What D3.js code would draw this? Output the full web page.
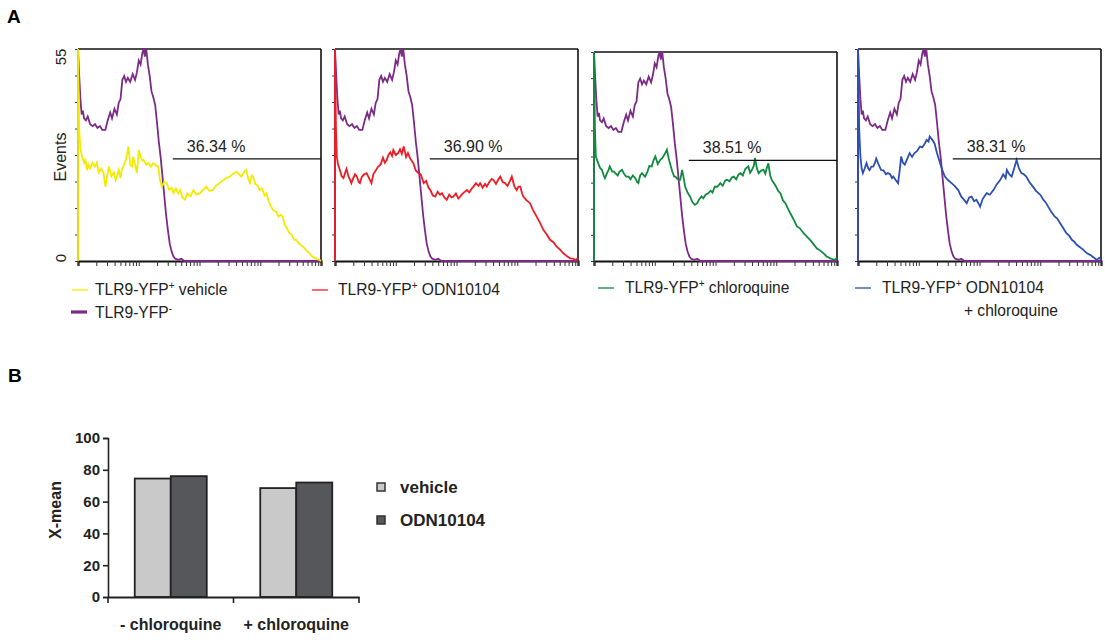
<!DOCTYPE html>
<html><head><meta charset="utf-8">
<script src="https://cdn.jsdelivr.net/npm/d3@7"></script>
<style>body{margin:0;background:#fff}svg{display:block;font-family:Arial,"Liberation Sans",sans-serif}</style>
</head><body><svg id="c" width="1105" height="640"></svg>
<script>
// ---------- DATA (panel A: x = log10 fluorescence decade, y = events) ----------
const negative = [[0,0],[0,55],[0.02,48],[0.04,42],[0.06,38],[0.08,39],[0.1,37],[0.13,36.5],[0.16,37.5],[0.2,35.5],[0.24,35],[0.28,35.5],[0.32,34.5],[0.36,35],[0.4,34],[0.45,34],[0.49,36.5],[0.53,38.5],[0.56,37],[0.6,39.5],[0.64,38],[0.67,41],[0.7,42],[0.73,47],[0.76,48],[0.79,46.5],[0.82,47.5],[0.86,46.5],[0.9,48.5],[0.94,47],[0.97,49],[1.0,52],[1.03,51],[1.06,54],[1.08,55],[1.1,53],[1.12,55.5],[1.15,51],[1.18,48],[1.21,44],[1.24,42.5],[1.27,40.5],[1.3,36],[1.33,31],[1.36,27],[1.39,22],[1.42,17],[1.45,12],[1.48,8],[1.51,4.5],[1.54,2.5],[1.57,1.2],[1.6,0.6],[1.65,0.3],[1.7,0.6],[1.75,0],[4,0]];
const vehicle = [[0,0],[0,55],[0.02,34],[0.04,29],[0.07,27],[0.1,25.5],[0.12,26.5],[0.15,23.5],[0.17,25],[0.2,24],[0.24,25.5],[0.28,24.5],[0.31,25.5],[0.34,23],[0.38,24],[0.42,22.8],[0.45,19.3],[0.48,22],[0.51,24.5],[0.55,22],[0.59,23],[0.62,21],[0.64,22],[0.67,23.6],[0.7,21.5],[0.72,23.6],[0.76,25],[0.8,27],[0.83,29.7],[0.86,25],[0.89,24.5],[0.91,27],[0.94,25],[0.97,22.8],[1.0,28.8],[1.03,27],[1.06,26],[1.08,26.2],[1.12,25],[1.16,25.5],[1.2,24.5],[1.24,25.4],[1.28,24.8],[1.32,24.5],[1.35,21],[1.38,19.3],[1.42,20.5],[1.46,20.2],[1.5,18.5],[1.54,19],[1.57,17.6],[1.61,18.8],[1.65,17.5],[1.68,18.4],[1.72,16.5],[1.76,15.9],[1.8,17.5],[1.85,16.8],[1.9,18.4],[1.95,17.2],[2.01,17.6],[2.06,18.5],[2.11,19.3],[2.16,18.2],[2.22,18.4],[2.27,19.5],[2.33,20.2],[2.38,20.8],[2.44,21.5],[2.5,21.9],[2.55,22.6],[2.61,23.2],[2.65,22.5],[2.69,21.9],[2.73,23],[2.77,23.6],[2.8,21.5],[2.83,20.2],[2.86,22.2],[2.88,21.9],[2.92,20],[2.96,19.5],[2.99,18.4],[3.03,18.8],[3.07,17],[3.1,17.6],[3.15,15],[3.21,13.2],[3.26,12.8],[3.3,11.5],[3.34,12],[3.37,11.5],[3.4,9.5],[3.44,8.5],[3.48,7.2],[3.52,6.8],[3.56,5.5],[3.59,5.5],[3.64,4.5],[3.7,3.8],[3.75,2.9],[3.8,2.2],[3.86,1.1],[3.9,0.8],[3.94,0.5],[3.97,0.3],[4,0]];
const odn = [[0,0],[0,55],[0.015,35],[0.03,27.1],[0.05,25],[0.08,23.6],[0.11,22],[0.14,21.5],[0.17,23],[0.19,23.9],[0.22,22],[0.25,21],[0.27,20.2],[0.3,21.5],[0.33,22.5],[0.36,21.9],[0.39,20.5],[0.41,20.2],[0.44,21.8],[0.48,22.5],[0.52,22.8],[0.56,21.5],[0.6,20.2],[0.63,22.5],[0.67,23.5],[0.71,24.5],[0.75,25],[0.79,26.8],[0.82,25.5],[0.85,26.2],[0.88,27.5],[0.91,28.2],[0.94,27.3],[0.96,28.8],[1.0,27.5],[1.04,28],[1.07,29],[1.1,27.8],[1.13,29.7],[1.17,27],[1.2,28],[1.24,26.5],[1.27,25.8],[1.29,25.4],[1.33,23.5],[1.37,22.8],[1.41,22.5],[1.46,20.2],[1.5,20.8],[1.54,19],[1.57,18.4],[1.61,17],[1.65,16.7],[1.69,18],[1.73,17.2],[1.76,17.6],[1.8,16.5],[1.84,15.9],[1.88,17.2],[1.92,16.5],[1.95,16.7],[1.99,17.5],[2.03,16.2],[2.06,16.7],[2.1,17.5],[2.14,18],[2.17,18.4],[2.21,17.8],[2.25,18.8],[2.28,19.3],[2.32,20.2],[2.36,19.5],[2.39,20.2],[2.43,19],[2.47,20],[2.5,19.3],[2.54,20.5],[2.58,21.3],[2.61,21],[2.65,20],[2.69,21.2],[2.72,21.9],[2.76,20.5],[2.8,20.2],[2.84,19.5],[2.88,20.8],[2.91,21.9],[2.95,19.5],[2.99,18.4],[3.02,19.3],[3.05,19.3],[3.08,17.5],[3.1,16.7],[3.15,15.8],[3.21,15],[3.26,13.2],[3.32,11.5],[3.37,10],[3.43,8.1],[3.48,7],[3.54,5.5],[3.6,4.8],[3.65,3.7],[3.7,3],[3.76,2],[3.82,1.2],[3.87,0.7],[3.92,0.6],[3.96,0.2],[4,0.8]];
const chloroquine = [[0,0],[0,55],[0.015,35],[0.03,27.5],[0.07,25.7],[0.1,24.5],[0.13,24],[0.16,22.5],[0.18,21.8],[0.21,23],[0.24,24],[0.26,24.9],[0.3,23.5],[0.33,23.5],[0.35,23.1],[0.39,22.5],[0.42,23.5],[0.46,24],[0.5,22.8],[0.53,22.2],[0.57,22.2],[0.6,21.5],[0.64,22.5],[0.68,21.8],[0.71,20.8],[0.73,20.5],[0.76,22.5],[0.79,23.1],[0.82,22.5],[0.84,22.2],[0.88,23.5],[0.91,25],[0.95,24.9],[0.98,26.5],[1.01,27.5],[1.05,25.5],[1.09,26.6],[1.12,27],[1.16,28],[1.2,29.3],[1.23,27],[1.25,25.7],[1.29,23.5],[1.32,22.2],[1.34,22.2],[1.38,21.5],[1.42,21.4],[1.45,24],[1.48,21.5],[1.5,19.6],[1.54,18],[1.58,17],[1.62,15.5],[1.66,14.8],[1.7,15.2],[1.73,16.2],[1.77,17],[1.8,16.5],[1.84,17.5],[1.88,17.8],[1.92,18.5],[1.95,18],[1.99,19.6],[2.03,19.5],[2.08,20.5],[2.12,19.8],[2.16,21.2],[2.19,21.4],[2.23,21],[2.27,22],[2.3,22.2],[2.34,21.5],[2.38,22.8],[2.41,23.1],[2.45,22.5],[2.49,24.2],[2.54,24.9],[2.57,23.2],[2.6,24],[2.63,25],[2.65,27.1],[2.68,24.5],[2.71,23.1],[2.75,23.8],[2.79,24],[2.82,23],[2.85,24.8],[2.87,25.7],[2.9,22.5],[2.93,21.2],[2.96,20.5],[3.0,19.5],[3.03,18.5],[3.07,17.8],[3.11,16],[3.15,15.2],[3.2,13.5],[3.26,11.7],[3.3,10.5],[3.34,9.1],[3.39,8.6],[3.45,7.3],[3.5,6.5],[3.56,5.5],[3.61,4.5],[3.67,3.3],[3.72,2.8],[3.78,2],[3.83,1.2],[3.89,0.7],[3.94,0.4],[3.97,0.3],[4,0.9]];
const odnChloroquine = [[0,0],[0,55],[0.01,45],[0.02,34],[0.04,27.1],[0.06,24],[0.08,22.8],[0.11,24],[0.14,25.4],[0.17,24],[0.19,23.6],[0.22,24.5],[0.25,24.5],[0.28,25.5],[0.3,26.6],[0.34,25],[0.38,23.6],[0.42,23.5],[0.46,22.5],[0.49,22.8],[0.53,22.5],[0.56,21.5],[0.58,21.9],[0.62,21],[0.66,20.2],[0.69,24],[0.71,27.1],[0.74,25.5],[0.77,25],[0.81,26.5],[0.85,28],[0.89,27],[0.93,28],[0.97,28.5],[1.02,29.7],[1.06,29.5],[1.1,30.5],[1.13,31.4],[1.16,31],[1.18,32.3],[1.22,31.5],[1.26,30.5],[1.3,28],[1.35,25.4],[1.39,23.5],[1.43,21.9],[1.48,21],[1.54,20.2],[1.59,19.5],[1.65,18.4],[1.7,16.7],[1.74,16],[1.79,15],[1.83,16.5],[1.87,16.7],[1.91,15.5],[1.95,15.9],[1.98,15],[2.01,14.1],[2.05,16],[2.09,17],[2.12,17.6],[2.17,17.2],[2.23,18.4],[2.28,19.8],[2.34,21],[2.39,22.5],[2.43,21.5],[2.45,23.6],[2.49,22.5],[2.53,21.9],[2.57,24],[2.61,26.2],[2.65,24],[2.69,22.8],[2.73,22.5],[2.77,21.9],[2.82,20.5],[2.88,19.3],[2.93,18.2],[2.97,17.6],[3.01,17],[3.05,15.9],[3.09,15.2],[3.13,14.1],[3.18,12.8],[3.24,11.5],[3.28,11],[3.32,10],[3.38,8.5],[3.43,7.2],[3.48,6.5],[3.52,5.5],[3.56,5],[3.6,4.2],[3.66,3.5],[3.71,2.9],[3.77,2],[3.82,1.6],[3.88,0.9],[3.93,0.3],[3.97,0.8],[4,0.4]];
const gatePercents = ["36.34 %","36.90 %","38.51 %","38.31 %"];
const gateStartDecade = 1.56;
const gateEvents = 26.5;
const yAxisTickLabels = ["0","55"];
const legendNames = ["vehicle","ODN10104","chloroquine","ODN10104"];

// ---------- DATA (panel B) ----------
const categories = ["- chloroquine","+ chloroquine"];
const seriesNames = ["vehicle","ODN10104"];
const vehicleMeans = [74.5, 68.5];
const odnMeans = [76, 72];
const bTicks = [0,20,40,60,80,100];

// ---------- STYLE / LAYOUT ----------
const svg = d3.select("#c");
const colors = ["#f4ea00","#ee1c25","#108a3e","#2d4eb2"];
const purple = "#7c2a88";
const panelLefts = [78,335,594,858];
const panelTops = [49,49,52,49];
const panelW = 243, panelBottom = 261;

svg.append("text").attr("x",7).attr("y",23).attr("font-size",19).attr("font-weight","bold").text("A");
svg.append("text").attr("x",8).attr("y",382).attr("font-size",19).attr("font-weight","bold").text("B");

const curves = [vehicle, odn, chloroquine, odnChloroquine];

panelLefts.forEach((px,i)=>{
  const top = panelTops[i];
  const x = d3.scaleLog().domain([1,1e4]).range([px, px+panelW]);
  const y = d3.scaleLinear().domain([0,55]).range([panelBottom, top]);
  const g = svg.append("g");
  const cid = "clip"+i;
  svg.append("clipPath").attr("id",cid).append("rect")
     .attr("x",px-1).attr("y",top).attr("width",panelW+2).attr("height",panelBottom-top+1);
  g.append("line").attr("x1",px).attr("x2",px+panelW).attr("y1",top).attr("y2",top).attr("stroke","#111").attr("stroke-width",1.3);
  g.append("line").attr("x1",px+panelW).attr("x2",px+panelW).attr("y1",top).attr("y2",panelBottom).attr("stroke","#111").attr("stroke-width",1.6);
  g.append("line").attr("x1",px).attr("x2",px).attr("y1",top).attr("y2",panelBottom).attr("stroke","#111").attr("stroke-width",1.2);
  const xa = g.append("g").attr("transform",`translate(0,${panelBottom})`)
    .call(d3.axisBottom(x).tickValues(x.ticks()).tickSize(5).tickFormat(""));
  xa.select(".domain").attr("stroke","#111").attr("stroke-width",2.2);
  xa.selectAll(".tick line").attr("stroke","#333").attr("stroke-width",1);
  const ya = g.append("g").attr("transform",`translate(${px},0)`)
    .call(d3.axisLeft(y).tickValues(d3.range(0,55.001,55/8)).tickSize(3).tickFormat(""));
  ya.select(".domain").remove();
  ya.selectAll(".tick line").attr("stroke","#333");
  const line = d3.line().x(d=>x(Math.pow(10,d[0]))).y(d=>y(d[1]));
  g.append("path").datum(negative).attr("d",line).attr("fill","none").attr("stroke",purple).attr("stroke-width",1.8).attr("clip-path",`url(#${cid})`);
  g.append("path").datum(curves[i]).attr("d",line).attr("fill","none").attr("stroke",colors[i]).attr("stroke-width",1.8).attr("clip-path",`url(#${cid})`);
  g.append("line").attr("x1",x(Math.pow(10,gateStartDecade))).attr("x2",px+panelW)
    .attr("y1",y(gateEvents)).attr("y2",y(gateEvents)).attr("stroke","#111").attr("stroke-width",1.3);
  g.append("text").attr("x",x(Math.pow(10,gateStartDecade))+14).attr("y",y(gateEvents)-7)
    .attr("font-size",16).attr("fill","#222").text(gatePercents[i]);
  if(i===0){
    g.append("text").attr("transform",`translate(66,${y(55)+8}) rotate(-90)`).attr("text-anchor","middle").attr("font-size",15).attr("fill","#222").text(yAxisTickLabels[1]);
    g.append("text").attr("transform",`translate(66,${y(0)-3}) rotate(-90)`).attr("text-anchor","middle").attr("font-size",15).attr("fill","#222").text(yAxisTickLabels[0]);
    g.append("text").attr("transform",`translate(66,157) rotate(-90)`).attr("text-anchor","middle").attr("font-size",16).attr("fill","#222").text("Events");
  }
});

// legend A
const legA = [{lx:72,tx:95,y:290},{lx:312,tx:338,y:290},{lx:598,tx:625,y:288},{lx:855,tx:882,y:288}];
function yfpLabel(sel, sign, rest){
  sel.append("tspan").text("TLR9-YFP");
  sel.append("tspan").attr("font-size",10).attr("dy",-6).text(sign);
  if(rest) sel.append("tspan").attr("dy",6).text(rest);
}
legA.forEach((L,i)=>{
  svg.append("line").attr("x1",L.lx).attr("x2",L.lx+16).attr("y1",L.y).attr("y2",L.y).attr("stroke",colors[i]).attr("stroke-width",1.3);
  const t = svg.append("text").attr("x",L.tx).attr("y",L.y+5).attr("font-size",15.6).attr("fill","#222");
  yfpLabel(t,"+"," "+legendNames[i]);
});
svg.append("text").attr("x",1058).attr("y",316).attr("text-anchor","end").attr("font-size",15.6).attr("fill","#222").text("+ chloroquine");
svg.append("line").attr("x1",71).attr("x2",87).attr("y1",312).attr("y2",312).attr("stroke",purple).attr("stroke-width",3.2);
yfpLabel(svg.append("text").attr("x",95).attr("y",318).attr("font-size",15.6).attr("fill","#222"),"-",null);

// ---------- PANEL B ----------
const bx0 = d3.scaleBand().domain(categories).range([108,359]);
const groupW = 72;
const bx1 = d3.scaleBand().domain(seriesNames).range([0,groupW]);
const by = d3.scaleLinear().domain([0,100]).range([597,438]);
const barColors = ["#c9c9c9","#56575a"];
const seriesVals = [vehicleMeans, odnMeans];
const gb = svg.append("g");
seriesNames.forEach((s,si)=>{
  gb.selectAll(null).data(categories).enter().append("rect")
    .attr("x",c=>bx0(c)+bx0.bandwidth()/2-groupW/2+bx1(s))
    .attr("y",(c,ci)=>by(seriesVals[si][ci]))
    .attr("width",bx1.bandwidth())
    .attr("height",(c,ci)=>by(0)-by(seriesVals[si][ci]))
    .attr("fill",barColors[si]).attr("stroke","#222").attr("stroke-width",1.8);
});
const yb = gb.append("g").attr("transform","translate(108,0)")
  .call(d3.axisLeft(by).tickValues(bTicks).tickSize(5).tickPadding(3));
yb.selectAll("text").attr("font-size",15).attr("font-weight","bold").attr("fill","#222").attr("font-family","Arial, Liberation Sans, sans-serif");
yb.select(".domain").attr("stroke","#222").attr("stroke-width",1.6);
yb.selectAll(".tick line").attr("stroke","#222").attr("stroke-width",1.6);
const xb = gb.append("g").attr("transform","translate(0,597)")
  .call(d3.axisBottom(bx0).tickSize(0).tickSizeOuter(0).tickPadding(22));
xb.select(".domain").attr("stroke","#222").attr("stroke-width",1.8);
xb.selectAll("text").attr("font-size",16).attr("font-weight","bold").attr("fill","#222").attr("font-family","Arial, Liberation Sans, sans-serif");
gb.selectAll(null).data(d3.range(categories.length+1)).enter().append("line")
  .attr("x1",i=>i<categories.length?bx0(categories[i]):bx0.range()[1])
  .attr("x2",i=>i<categories.length?bx0(categories[i]):bx0.range()[1])
  .attr("y1",597).attr("y2",603).attr("stroke","#222").attr("stroke-width",1.6);
gb.append("text").attr("transform","translate(61,510) rotate(-90)").attr("text-anchor","middle")
  .attr("font-size",16).attr("font-weight","bold").attr("fill","#222").text("X-mean");
seriesNames.forEach((s,i)=>{
  const yy = 487 + i*33;
  gb.append("rect").attr("x",377).attr("y",yy-4).attr("width",8).attr("height",8)
    .attr("fill",barColors[i]).attr("stroke","#333").attr("stroke-width",1.5);
  gb.append("text").attr("x",400).attr("y",yy+6).attr("font-size",17).attr("font-weight","bold").attr("fill","#222").text(s);
});
</script></body></html>
